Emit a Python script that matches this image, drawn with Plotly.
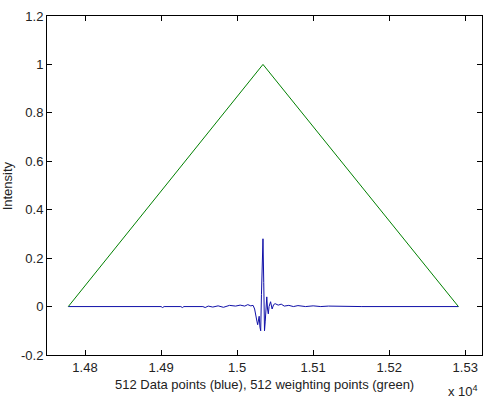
import plotly.graph_objects as go

# blue data trace
data_x = [14778, 14900, 14902, 14904, 14926, 14928, 14930, 14955, 14958, 14962,
          14968, 14975, 14982, 14990, 14998, 15004, 15010, 15014, 15018, 15021,
          15023, 15025, 15026, 15027, 15028, 15029, 15030, 15031, 15032, 15033,
          15034, 15035, 15036, 15037, 15038, 15039, 15040, 15041, 15042, 15044,
          15046, 15048, 15050, 15054, 15058, 15062, 15068, 15074, 15080, 15090,
          15100, 15110, 15120, 15160, 15162, 15164, 15291]
data_y = [0.0, 0.0, -0.004, 0.0, 0.0, -0.004, 0.0, 0.0, -0.004, 0.002,
          -0.002, 0.003, -0.003, 0.005, 0.002, 0.006, 0.002, 0.008, 0.003, 0.005,
          -0.01, -0.035, -0.06, -0.075, -0.05, -0.04, -0.085, -0.10, 0.05, 0.2,
          0.28, 0.1, -0.10, -0.06, 0.02, 0.04, -0.01, -0.03, 0.0, 0.02,
          -0.01, 0.008, 0.012, 0.006, 0.01, 0.002, 0.005, 0.0, 0.004, 0.0,
          0.003, 0.0, 0.002, 0.0, 0.003, 0.0, 0.0]

# green weighting triangle
weight_x = [14778, 15034, 15291]
weight_y = [0, 1, 0]

x_ticks = [14800, 14900, 15000, 15100, 15200, 15300]
x_ticktext = ['1.48', '1.49', '1.5', '1.51', '1.52', '1.53']
y_ticks = [-0.2, 0, 0.2, 0.4, 0.6, 0.8, 1, 1.2]
y_ticktext = ['-0.2', '0', '0.2', '0.4', '0.6', '0.8', '1', '1.2']

font = dict(family='Liberation Sans', size=13, color='#222')

fig = go.Figure()
fig.add_trace(go.Scatter(x=data_x, y=data_y, mode='lines',
                         line=dict(color='#1010a8', width=1)))
fig.add_trace(go.Scatter(x=weight_x, y=weight_y, mode='lines',
                         line=dict(color='#008000', width=1)))

axis_style = dict(showgrid=False, zeroline=False, showline=True, linecolor='black',
                  linewidth=1, mirror='ticks', ticks='inside', ticklen=5,
                  tickcolor='black', tickfont=font, automargin=False)

fig.update_xaxes(range=[14750, 15322], tickvals=x_ticks, ticktext=x_ticktext, **axis_style)
fig.update_yaxes(range=[-0.2, 1.2], tickvals=y_ticks, ticktext=y_ticktext, **axis_style)

fig.update_layout(
    width=495, height=400,
    margin=dict(l=47, r=13, t=16, b=45),
    paper_bgcolor='white', plot_bgcolor='white',
    showlegend=False,
    annotations=[
        dict(text='512 Data points (blue), 512 weighting points (green)', x=0.5, y=-0.088,
             xref='paper', yref='paper', showarrow=False, yanchor='middle', font=font),
        dict(text='Intensity', x=-0.09, y=0.5, xref='paper', yref='paper', textangle=-90,
             xanchor='center', yanchor='middle', showarrow=False, font=font),
        dict(text='x 10<sup>4</sup>', x=0.995, y=-0.105, xref='paper', yref='paper',
             xanchor='right', yanchor='middle', showarrow=False, font=font),
    ],
)

# page body has an 8px default margin; drop it so the figure sits at the window corner
fig.write_html("out.html", config={'displayModeBar': False},
               post_script="document.body.style.margin='0';")
